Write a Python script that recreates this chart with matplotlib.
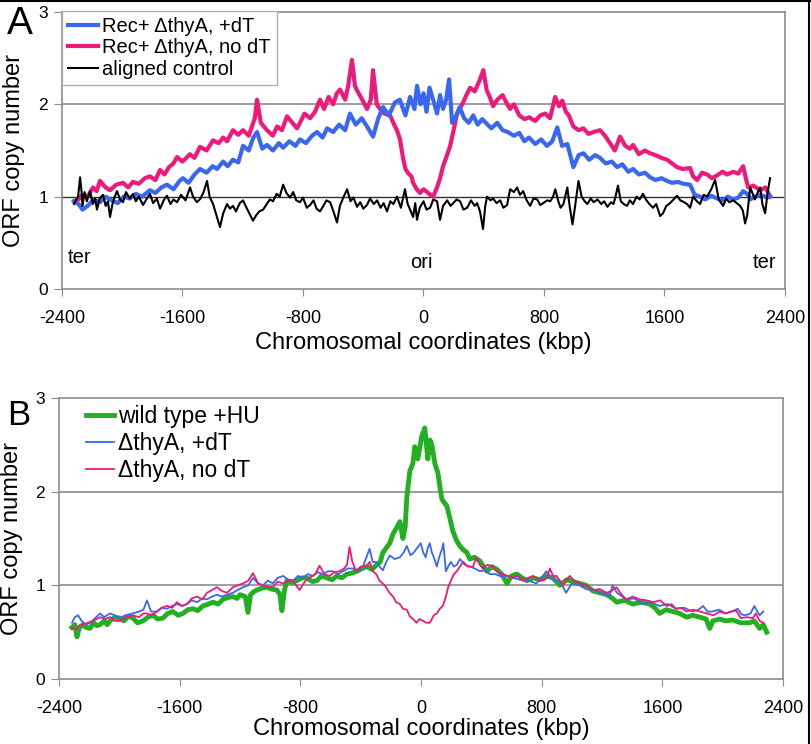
import matplotlib
matplotlib.use('agg')
import matplotlib.pyplot as plt
from matplotlib.lines import Line2D

plt.rcParams['font.family'] = ['Liberation Sans', 'DejaVu Sans']
plt.rcParams['axes.unicode_minus'] = False

# ---- panel A: Rec+ strains ----
a_blue_x = [-2320, -2290, -2264, -2230, -2190, -2148, -2110, -2070, -2030, -1990, -1950, -1910, -1870, -1816,
            -1780, -1740, -1703, -1660, -1620, -1597, -1560, -1520, -1484, -1440, -1400, -1371, -1330, -1300,
            -1265, -1230, -1198, -1160, -1130, -1105, -1070, -1039, -1000, -960, -932, -890, -850, -820, -780,
            -740, -707, -670, -640, -600, -560, -520, -488, -450, -410, -375, -335, -300, -268, -230, -190,
            -157, -120, -89, -60, -43, -20, 0, 20, 40, 64, 90, 110, 130, 150, 170, 190, 210, 240, 270, 300,
            330, 360, 390, 414, 450, 490, 525, 560, 600, 636, 670, 700, 742, 780, 820, 855, 888, 920, 955,
            995, 1030, 1062, 1100, 1140, 1172, 1210, 1250, 1285, 1320, 1360, 1391, 1430, 1470, 1504, 1540,
            1580, 1617, 1650, 1690, 1723, 1770, 1800, 1836, 1870, 1910, 1949, 1990, 2020, 2056, 2090, 2122,
            2150, 2169, 2200, 2240, 2282, 2300]
a_blue_y = [0.95, 0.92, 0.86, 0.90, 0.97, 0.94, 1.00, 0.96, 0.93, 1.00, 0.98, 1.03, 1.00, 1.07,
            1.04, 1.10, 1.13, 1.08, 1.17, 1.20, 1.15, 1.24, 1.30, 1.26, 1.33, 1.30, 1.38, 1.33,
            1.40, 1.37, 1.55, 1.50, 1.64, 1.70, 1.52, 1.56, 1.50, 1.58, 1.53, 1.60, 1.55, 1.62, 1.58,
            1.66, 1.70, 1.64, 1.74, 1.70, 1.78, 1.72, 1.90, 1.78, 1.85, 1.76, 1.65, 1.85, 1.97, 1.88, 2.02,
            2.05, 1.88, 2.08, 1.95, 2.20, 2.00, 2.12, 1.92, 2.18, 2.05, 1.90, 2.10, 1.95, 2.05, 2.27, 1.80,
            1.85, 1.97, 1.85, 1.80, 1.88, 1.78, 1.84, 1.80, 1.74, 1.80, 1.72, 1.70, 1.66, 1.69, 1.60, 1.64,
            1.57, 1.62, 1.55, 1.60, 1.75, 1.55, 1.57, 1.32, 1.45, 1.47, 1.40, 1.45, 1.42, 1.36, 1.38, 1.32,
            1.35, 1.27, 1.30, 1.24, 1.26, 1.21, 1.18, 1.20, 1.17, 1.15, 1.16, 1.14, 1.13, 1.02, 1.00, 0.97,
            1.01, 0.98, 0.96, 1.00, 0.97, 0.99, 1.06, 1.03, 0.97, 1.00, 1.02, 0.99, 1.01]

a_pink_x = [-2320, -2290, -2264, -2230, -2194, -2170, -2148, -2110, -2081, -2040, -1995, -1960, -1929, -1890,
            -1850, -1816, -1780, -1749, -1720, -1690, -1660, -1636, -1600, -1550, -1520, -1484, -1440, -1397,
            -1360, -1330, -1304, -1265, -1230, -1198, -1160, -1120, -1105, -1080, -1039, -1000, -972, -940,
            -906, -870, -840, -820, -790, -753, -720, -687, -660, -630, -600, -575, -554, -520, -500, -475,
            -455, -441, -410, -375, -350, -335, -310, -289, -260, -222, -195, -176, -156, -136, -120, -100,
            -80, -69, -45, -23, 0, 24, 45, 64, 90, 110, 130, 150, 177, 200, 223, 243, 263, 285, 309, 340,
            370, 397, 420, 440, 462, 490, 525, 550, 575, 600, 636, 670, 702, 742, 775, 808, 840, 874, 900,
            921, 945, 965, 995, 1030, 1062, 1095, 1128, 1172, 1205, 1238, 1270, 1305, 1340, 1370, 1391,
            1430, 1470, 1504, 1540, 1580, 1617, 1650, 1683, 1720, 1770, 1790, 1816, 1850, 1883, 1915, 1949,
            1985, 2016, 2056, 2090, 2122, 2140, 2156, 2190, 2235, 2270, 2302]
a_pink_y = [0.95, 0.97, 1.02, 1.00, 1.10, 1.06, 1.17, 1.10, 1.07, 1.13, 1.15, 1.10, 1.16, 1.14,
            1.20, 1.22, 1.18, 1.29, 1.24, 1.32, 1.36, 1.43, 1.38, 1.46, 1.42, 1.54, 1.50, 1.61,
            1.58, 1.64, 1.60, 1.72, 1.67, 1.72, 1.66, 1.85, 2.05, 1.80, 1.72, 1.66, 1.76, 1.72,
            1.87, 1.80, 1.74, 1.80, 1.90, 1.85, 1.92, 2.05, 1.95, 2.08, 2.00, 2.12, 2.16, 2.05, 2.20, 2.48,
            2.20, 2.15, 2.06, 1.95, 2.05, 2.37, 2.00, 1.95, 1.90, 1.88, 1.78, 1.72, 1.62, 1.42, 1.30, 1.25,
            1.22, 1.15, 1.08, 1.04, 1.08, 1.05, 1.02, 1.00, 1.10, 1.20, 1.33, 1.42, 1.55, 1.72, 1.90, 1.96,
            2.02, 2.10, 2.18, 2.14, 2.25, 2.37, 2.15, 2.08, 1.98, 2.05, 2.10, 2.02, 1.95, 2.00, 1.88, 1.84,
            1.86, 1.82, 1.88, 1.90, 1.85, 2.08, 1.98, 2.04, 1.92, 1.88, 1.76, 1.72, 1.74, 1.68, 1.70, 1.72,
            1.66, 1.58, 1.50, 1.65, 1.55, 1.52, 1.56, 1.46, 1.50, 1.47, 1.45, 1.42, 1.40, 1.36, 1.32, 1.30,
            1.31, 1.22, 1.18, 1.26, 1.24, 1.20, 1.23, 1.27, 1.24, 1.27, 1.25, 1.33, 1.20, 1.10, 1.12, 1.07,
            1.10, 1.00]

a_black_x = [-2320, -2305, -2293, -2280, -2270, -2264, -2250, -2235, -2214, -2195, -2180, -2168, -2150, -2128,
             -2110, -2095, -2081, -2065, -2050, -2035, -2015, -1995, -1975, -1950, -1929, -1910, -1890, -1862,
             -1840, -1816, -1795, -1770, -1749, -1725, -1703, -1680, -1660, -1636, -1610, -1580, -1550, -1530,
             -1504, -1480, -1460, -1437, -1420, -1397, -1375, -1351, -1330, -1304, -1285, -1265, -1245, -1220,
             -1198, -1175, -1150, -1132, -1110, -1090, -1065, -1040, -1020, -999, -975, -955, -932, -910, -886,
             -865, -845, -820, -800, -775, -753, -730, -710, -687, -665, -645, -620, -600, -574, -555, -530,
             -507, -485, -465, -441, -420, -400, -375, -355, -330, -308, -285, -265, -242, -220, -200, -176,
             -150, -123, -105, -89, -69, -55, -43, -25, 0, 20, 44, 65, 90, 110, 130, 157, 180, 197, 220, 243,
             265, 290, 315, 340, 356, 375, 395, 410, 422, 445, 462, 485, 509, 530, 555, 575, 600, 622, 640,
             662, 685, 708, 730, 755, 775, 795, 820, 841, 860, 875, 895, 910, 929, 955, 970, 989, 1005, 1029,
             1050, 1070, 1088, 1110, 1130, 1155, 1180, 1200, 1221, 1245, 1261, 1275, 1291, 1310, 1330, 1351,
             1370, 1391, 1415, 1435, 1457, 1480, 1500, 1524, 1545, 1571, 1590, 1612, 1637, 1660, 1683, 1705,
             1730, 1750, 1770, 1790, 1815, 1836, 1860, 1883, 1910, 1936, 1960, 1989, 2010, 2030, 2056, 2080,
             2102, 2120, 2135, 2149, 2169, 2200, 2220, 2235, 2250, 2268, 2285, 2301]
a_black_y = [0.92, 0.97, 1.00, 1.21, 1.05, 0.90, 1.05, 0.95, 1.06, 0.92, 0.98, 0.86, 0.98, 1.02,
             0.90, 0.95, 0.78, 0.92, 1.00, 1.06, 0.97, 0.94, 1.05, 0.98, 1.03, 0.95, 1.00, 0.91,
             0.97, 1.03, 0.93, 0.98, 0.87, 0.96, 1.01, 0.92, 0.97, 0.94, 1.02, 0.96, 1.10, 1.00,
             0.94, 0.98, 1.05, 1.17, 1.00, 0.92, 0.80, 0.67, 0.82, 0.92, 0.87, 0.90, 0.84, 0.93,
             0.96, 0.88, 0.80, 0.74, 0.80, 0.84, 0.86, 0.92, 0.97, 0.95, 1.03, 1.00, 1.13, 1.04, 0.99,
             1.05, 0.96, 0.94, 0.99, 0.88, 0.91, 0.96, 0.87, 0.84, 0.90, 0.96, 0.94, 0.85, 0.72, 0.90, 1.00,
             1.08, 0.95, 0.99, 0.89, 0.94, 0.87, 0.91, 0.98, 0.92, 0.96, 0.88, 0.93, 0.84, 0.95, 0.92, 1.00,
             0.88, 1.08, 0.92, 0.86, 0.78, 0.93, 0.75, 0.88, 0.95, 0.86, 0.88, 0.97, 0.95, 0.75, 0.90, 0.96, 0.90, 0.93, 0.97, 0.95,
             0.86, 0.88, 0.96, 0.90, 0.93, 0.84, 0.65, 0.90, 1.00, 0.96, 0.98, 0.93, 0.96, 0.88, 0.91, 1.08, 1.05, 1.10, 1.02,
             1.06, 0.96, 0.90, 0.98, 0.97, 0.91, 0.93, 0.96, 0.95, 1.00, 1.08, 0.95, 0.88, 0.92, 1.10, 0.90, 0.70, 0.88, 1.17,
             1.00, 0.95, 0.92, 0.98, 0.94, 0.97, 0.92, 0.95, 0.89, 0.94, 0.92, 1.00, 1.12, 0.95, 0.92, 0.90,
             0.96, 0.92, 1.00, 0.97, 1.03, 0.96, 0.92, 0.88, 0.92, 0.79, 0.82, 0.90, 0.93, 0.97, 1.01, 0.96,
             0.94, 0.92, 0.88, 1.00, 0.95, 0.92, 1.02, 1.00, 1.08, 1.18, 0.97, 0.90, 0.98, 0.94, 0.96, 0.93,
             0.90, 0.85, 0.71, 0.80, 1.10, 0.97, 1.05, 1.10, 0.92, 0.82, 1.05, 1.20]

# ---- panel B: wild type + HU and ΔthyA ----
b_green_x = [-2314, -2295, -2281, -2265, -2241, -2220, -2195, -2170, -2150, -2128, -2100, -2080, -2062, -2030,
             -1996, -1970, -1940, -1910, -1880, -1843, -1810, -1777, -1745, -1711, -1680, -1645, -1610, -1578,
             -1545, -1512, -1480, -1446, -1410, -1379, -1345, -1313, -1280, -1247, -1220, -1200, -1165, -1147,
             -1130, -1110, -1088, -1055, -1022, -990, -955, -935, -922, -905, -889, -855, -823, -790, -757,
             -720, -690, -660, -624, -590, -558, -525, -492, -460, -425, -390, -359, -325, -293, -270, -253,
             -230, -207, -185, -160, -140, -120, -105, -94, -74, -54, -41, -21, -5, 5, 25, 45, 60, 72, 92,
             112, 130, 139, 155, 171, 191, 211, 235, 258, 280, 304, 324, 355, 390, 415, 437, 470, 503, 535,
             570, 600, 635, 670, 701, 745, 788, 830, 874, 920, 967, 1010, 1053, 1095, 1140, 1185, 1232, 1270,
             1298, 1350, 1404, 1460, 1516, 1550, 1582, 1625, 1669, 1715, 1762, 1800, 1848, 1890, 1914, 1935,
             1980, 2020, 2066, 2120, 2179, 2210, 2245, 2270, 2292]
b_green_y = [0.55, 0.58, 0.45, 0.55, 0.58, 0.55, 0.54, 0.60, 0.57, 0.58, 0.62, 0.58, 0.62, 0.66,
             0.65, 0.62, 0.67, 0.65, 0.60, 0.62, 0.66, 0.68, 0.64, 0.65, 0.70, 0.72, 0.68, 0.70,
             0.74, 0.75, 0.73, 0.78, 0.80, 0.82, 0.80, 0.85, 0.87, 0.88, 0.86, 0.90, 0.88, 0.71,
             0.90, 0.93, 0.95, 0.97, 0.98, 0.96, 0.95, 0.90, 0.73, 0.95, 1.05, 1.03, 1.05, 1.08, 1.08,
             1.04, 1.05, 1.10, 1.08, 1.06, 1.10, 1.08, 1.12, 1.13, 1.15, 1.18, 1.20, 1.17, 1.22, 1.25, 1.35,
             1.40, 1.45, 1.55, 1.62, 1.68, 1.50, 1.62, 1.94, 2.22, 2.30, 2.48, 2.35, 2.50, 2.59, 2.68, 2.35, 2.55, 2.50, 2.30,
             2.20, 2.00, 1.92, 1.88, 1.85, 1.72, 1.58, 1.48, 1.42, 1.38, 1.35, 1.28, 1.30, 1.26, 1.20, 1.15, 1.20, 1.17, 1.12,
             1.02, 1.10, 1.12, 1.08, 1.05, 1.08, 1.06, 1.10, 1.08, 1.00, 1.06, 1.04, 1.02, 1.00, 0.94, 0.92, 0.90, 0.86,
             0.82, 0.84, 0.80, 0.82, 0.80, 0.76, 0.70, 0.74, 0.72, 0.70, 0.66, 0.68, 0.66, 0.64, 0.54, 0.62,
             0.64, 0.62, 0.63, 0.60, 0.60, 0.62, 0.54, 0.58, 0.50]

b_blue_x = [-2314, -2295, -2274, -2250, -2220, -2195, -2160, -2128, -2100, -2062, -2030, -1996, -1960, -1910,
            -1870, -1840, -1817, -1790, -1750, -1720, -1684, -1650, -1618, -1585, -1551, -1520, -1485, -1450,
            -1419, -1385, -1353, -1320, -1286, -1247, -1215, -1180, -1145, -1114, -1080, -1048, -1015, -982,
            -950, -915, -880, -849, -815, -783, -750, -717, -684, -650, -617, -584, -550, -518, -485, -452,
            -420, -385, -341, -320, -297, -275, -253, -230, -207, -175, -140, -115, -94, -70, -48, -25, -2,
            15, 31, 45, 58, 72, 85, 105, 120, 138, 148, 165, 180, 198, 218, 238, 258, 290, 324, 357, 390, 423,
            457, 490, 523, 566, 610, 655, 698, 730, 765, 800, 830, 860, 890, 920, 962, 1000, 1050, 1095, 1140,
            1195, 1250, 1270, 1300, 1360, 1415, 1470, 1525, 1580, 1635, 1690, 1745, 1800, 1840, 1870, 1900,
            1930, 1975, 2020, 2060, 2100, 2125, 2150, 2185, 2210, 2230, 2245, 2270]
b_blue_y = [0.60, 0.66, 0.68, 0.62, 0.58, 0.60, 0.65, 0.70, 0.66, 0.70, 0.68, 0.65, 0.68, 0.70,
            0.72, 0.74, 0.84, 0.72, 0.72, 0.76, 0.75, 0.78, 0.80, 0.78, 0.80, 0.84, 0.82, 0.86,
            0.85, 0.88, 0.90, 0.88, 0.90, 0.92, 0.95, 0.98, 1.00, 1.08, 1.02, 1.00, 1.05, 1.02,
            1.08, 1.10, 1.06, 1.05, 1.10, 1.08, 1.12, 1.10, 1.14, 1.12, 1.15, 1.15, 1.12, 1.15, 1.18, 1.18,
            1.15, 1.20, 1.39, 1.25, 1.25, 1.20, 1.16, 1.25, 1.32, 1.28, 1.30, 1.35, 1.42, 1.32, 1.35, 1.40, 1.45,
            1.35, 1.30, 1.40, 1.45, 1.35, 1.30, 1.20, 1.30, 1.38, 1.45, 1.15, 1.20, 1.25, 1.20, 1.22, 1.28, 1.22, 1.20, 1.18, 1.15, 1.16,
            1.12, 1.12, 1.10, 1.10, 1.08, 1.06, 1.05, 1.04, 1.02, 1.08, 1.15, 1.08, 1.05, 1.05, 0.92, 1.02, 1.00, 0.96, 0.95,
            0.92, 0.88, 1.00, 0.92, 0.85, 0.86, 0.80, 0.82, 0.78, 0.80, 0.75, 0.76, 0.72, 0.74, 0.78, 0.72,
            0.72, 0.74, 0.70, 0.72, 0.75, 0.69, 0.68, 0.70, 0.78, 0.72, 0.68, 0.72]

b_pink_x = [-2314, -2290, -2265, -2241, -2210, -2175, -2150, -2128, -2095, -2062, -2030, -1996, -1960, -1910,
            -1870, -1840, -1817, -1785, -1750, -1720, -1684, -1650, -1618, -1585, -1551, -1520, -1485, -1450,
            -1419, -1385, -1353, -1320, -1286, -1247, -1215, -1180, -1145, -1114, -1080, -1048, -1015, -982,
            -950, -915, -880, -849, -805, -770, -740, -700, -673, -640, -607, -575, -541, -510, -490, -474,
            -455, -430, -400, -363, -340, -319, -297, -275, -240, -209, -185, -165, -140, -120, -94, -74, -52,
            -30, -10, 14, 36, 58, 72, 85, 105, 125, 145, 165, 180, 198, 218, 238, 258, 280, 310, 345, 366, 390,
            410, 440, 478, 510, 544, 577, 610, 640, 677, 710, 743, 776, 810, 835, 854, 876, 898, 920, 942, 965,
            986, 1020, 1053, 1095, 1140, 1185, 1230, 1263, 1296, 1330, 1360, 1405, 1450, 1495, 1540, 1585,
            1630, 1660, 1690, 1725, 1760, 1805, 1850, 1895, 1940, 1980, 2020, 2055, 2090, 2120, 2160, 2200,
            2220, 2245, 2270]
b_pink_y = [0.55, 0.53, 0.57, 0.58, 0.60, 0.62, 0.64, 0.66, 0.64, 0.66, 0.62, 0.62, 0.66, 0.68,
            0.66, 0.70, 0.70, 0.68, 0.72, 0.76, 0.78, 0.76, 0.82, 0.78, 0.80, 0.86, 0.88, 0.85,
            0.92, 0.95, 0.98, 0.94, 0.92, 0.98, 1.00, 1.02, 1.05, 1.13, 1.02, 1.00, 0.98, 0.98,
            1.04, 1.02, 1.05, 1.05, 0.95, 1.04, 1.08, 1.12, 1.21, 1.12, 1.10, 1.14, 1.15, 1.18, 1.22, 1.41,
            1.25, 1.15, 1.20, 1.20, 1.25, 1.15, 1.12, 1.05, 1.00, 0.92, 0.88, 0.82, 0.80, 0.75, 0.74, 0.67, 0.64,
            0.60, 0.64, 0.62, 0.60, 0.60, 0.64, 0.68, 0.70, 0.75, 0.78, 0.88, 0.98, 1.05, 1.12, 1.15, 1.20, 1.25, 1.20, 1.20, 1.30, 1.22,
            1.18, 1.22, 1.20, 1.14, 1.12, 1.10, 1.08, 1.10, 1.05, 1.08, 1.10, 1.06, 1.05, 1.08, 1.18, 1.10, 1.10, 1.05, 1.00, 1.06,
            1.10, 1.04, 1.02, 1.00, 0.95, 0.96, 0.92, 0.94, 0.98, 0.90, 0.85, 0.88, 0.85, 0.84, 0.82, 0.84,
            0.78, 0.80, 0.75, 0.76, 0.72, 0.74, 0.72, 0.70, 0.68, 0.72, 0.70, 0.72, 0.73, 0.65, 0.66, 0.65,
            0.70, 0.62, 0.60]

xticks = [-2400, -1600, -800, 0, 800, 1600, 2400]
yticks = [0, 1, 2, 3]

BLUE = '#3a67f2'
PINK = '#ee1a7a'
GREEN = '#22b022'
GRID = '#8c8c8c'

fig = plt.figure(figsize=(8.12, 7.44), dpi=100)
axA = fig.add_axes([62 / 812, 1 - 289 / 744, 723 / 812, 277 / 744])
axB = fig.add_axes([59 / 812, 1 - 679 / 744, 724 / 812, 281 / 744])


def style(ax):
    ax.set_xlim(-2400, 2400)
    ax.set_ylim(0, 3)
    ax.set_xticks(xticks)
    ax.set_yticks(yticks)
    for s in ax.spines.values():
        s.set_color(GRID)
        s.set_linewidth(1.2)
    ax.tick_params(axis='x', direction='out', length=5, color=GRID, labelsize=13, pad=10)
    ax.tick_params(axis='y', direction='out', length=6, color=GRID, labelsize=12.5, pad=4)
    ax.set_xlabel('Chromosomal coordinates (kbp)', fontsize=17)
    ax.set_ylabel('ORF copy number', fontsize=17)


# panel A
style(axA)
axA.axhline(2, color=GRID, lw=1.2, zorder=1)
axA.axhline(1, color='#333333', lw=1.0, zorder=1)
axA.plot(a_blue_x, a_blue_y, color=BLUE, lw=3.0, label='Rec+ \u0394thyA, +dT', zorder=3)
axA.plot(a_pink_x, a_pink_y, color=PINK, lw=3.0, label='Rec+ \u0394thyA, no dT', zorder=2)
axA.plot(a_black_x, a_black_y, color='black', lw=1.5, label='aligned control', zorder=4)
axA.text(-2365, 0.28, 'ter', fontsize=14.5, ha='left', va='baseline')
axA.text(-13, 0.23, 'ori', fontsize=14.5, ha='center', va='baseline')
axA.text(2188, 0.23, 'ter', fontsize=14.5, ha='left', va='baseline')
legA = axA.legend(loc='upper left', bbox_to_anchor=(0.0, 1.004), borderaxespad=0, fontsize=14.5,
                  handlelength=1.5, handletextpad=0.2, labelspacing=0.12, borderpad=0.3,
                  fancybox=False, framealpha=1, edgecolor='#b0b0b0')
legA.get_frame().set_linewidth(1.0)
axA.xaxis.set_label_coords(0.5, -0.155)
axA.yaxis.set_label_coords(-0.051, 0.5)
axA.text(-0.040, 1.02, 'A', transform=axA.transAxes, fontsize=28, ha='right', va='top')

# panel B
style(axB)
axB.axhline(2, color=GRID, lw=1.2, zorder=1)
axB.axhline(1, color=GRID, lw=1.2, zorder=1)
axB.plot(b_green_x, b_green_y, color=GREEN, lw=3.5, label='wild type +HU', zorder=2)
axB.plot(b_blue_x, b_blue_y, color=BLUE, lw=1.3, label='\u0394thyA, +dT', zorder=3)
axB.plot(b_pink_x, b_pink_y, color=PINK, lw=1.3, label='\u0394thyA, no dT', zorder=4)
axB.legend(loc='upper left', bbox_to_anchor=(0.025, 1.008), borderaxespad=0, fontsize=16.5,
           handlelength=1.2, handletextpad=0.2, labelspacing=0.18, frameon=False)
axB.xaxis.set_label_coords(0.5, -0.138)
axB.yaxis.set_label_coords(-0.050, 0.5)
axB.text(-0.040, 0.995, 'B', transform=axB.transAxes, fontsize=25, ha='right', va='top')

# outer border seen on the top and right edges of the figure
fig.add_artist(Line2D([0, 1], [0.999, 0.999], transform=fig.transFigure, color='black', lw=1.5))
fig.add_artist(Line2D([0.9965, 0.9965], [0, 1], transform=fig.transFigure, color='black', lw=1.5))

fig.savefig('out.png', dpi=100)
